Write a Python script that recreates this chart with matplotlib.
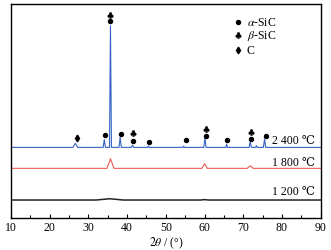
import matplotlib.pyplot as plt

plt.rcParams['font.family'] = ['Liberation Serif', 'DejaVu Serif']
plt.rcParams['mathtext.fontset'] = 'stix'

# Kurven, y in willkürlichen Einheiten
blue_x = [10, 26.0, 26.6, 27.2, 33.8, 34.1, 34.4, 35.45, 35.7, 35.95, 37.9, 38.2, 38.5,
          41.1, 41.4, 41.7, 45.3, 45.5, 45.7, 54.4, 54.6, 54.8, 59.8, 60.1, 60.4,
          65.5, 65.7, 65.9, 71.5, 71.8, 72.1, 73.2, 73.4, 73.6, 75.2, 75.5, 75.8, 90]
blue_y = [33.0, 33.0, 34.9, 33.0, 33.0, 36.6, 33.0, 33.0, 89.9, 33.0, 33.0, 37.7, 33.0,
          33.0, 34.0, 33.0, 33.0, 33.6, 33.0, 33.0, 33.6, 33.0, 33.0, 37.3, 33.0,
          33.0, 34.5, 33.0, 33.0, 35.6, 33.0, 33.0, 33.8, 33.0, 33.0, 36.9, 33.0, 33.0]

red_x = [10, 34.8, 35.7, 36.6, 59.3, 60.0, 60.7, 71.0, 71.8, 72.6, 90]
red_y = [23.2, 23.2, 27.7, 23.2, 23.2, 25.4, 23.2, 23.2, 24.4, 23.2, 23.2]

black_x = [10, 32.0, 35.5, 39.0, 59.0, 60.0, 61.0, 90]
black_y = [8.4, 8.4, 9.0, 8.4, 8.4, 8.6, 8.4, 8.4]

# Phasenmarker
alpha_x = [35.7, 34.4, 38.5, 41.5, 45.7, 55.2, 60.5, 65.8, 72.0, 75.8]
alpha_y = [92.1, 38.8, 39.3, 36.1, 35.7, 36.4, 38.5, 36.4, 36.9, 38.3]
beta_x = [35.7, 41.5, 60.5, 72.0]
beta_y = [94.9, 39.5, 41.8, 40.2]
c_x = [27.0]
c_y = [37.5]

labels = ['2 400 ℃', '1 800 ℃', '1 200 ℃']
label_y = [36.3, 26.4, 12.6]

fig = plt.figure(figsize=(3.31, 2.51), dpi=100)
ax = fig.add_axes([0.0332, 0.1275, 0.9356, 0.8526])

ax.plot(blue_x, blue_y, color='#3562c4', lw=0.8)
ax.plot(red_x, red_y, color='#ec5a55', lw=0.8)
ax.plot(black_x, black_y, color='#222222', lw=1.1)

ax.plot(alpha_x, alpha_y, 'o', color='black', ms=2.9, ls='none')
ax.plot(beta_x, beta_y, marker='$\\clubsuit$', color='black', ms=4.6, mew=0.2, ls='none')
ax.plot(c_x, c_y, marker='d', color='black', ms=3.4, ls='none')

# Legende
ax.plot([68.6], [91.7], 'o', color='black', ms=2.9)
ax.plot([68.6], [85.7], marker='$\\clubsuit$', color='black', ms=4.6, mew=0.2)
ax.plot([68.6], [78.5], marker='d', color='black', ms=3.4)
ax.text(70.9, 91.7, '$\\alpha$-SiC', fontsize=8.5, va='center')
ax.text(70.9, 85.5, '$\\beta$-SiC', fontsize=8.5, va='center')
ax.text(70.9, 78.5, 'C', fontsize=8.5, va='center')

for lab, y in zip(labels, label_y):
    ax.text(88.6, y, lab, fontsize=8.5, ha='right', va='center')

ax.set_xlim(10, 90)
ax.set_ylim(0, 100)
ax.set_xticks(range(10, 91, 10))
ax.set_xticks(range(15, 90, 10), minor=True)
ax.tick_params(axis='x', direction='in', length=3, width=0.8, labelsize=8.5, pad=2)
ax.tick_params(axis='x', which='minor', direction='in', length=2, width=0.8)
ax.set_yticks([])
for s in ax.spines.values():
    s.set_linewidth(1.0)
ax.set_xlabel('$2\\theta$ / (°)', fontsize=8.5, labelpad=1)

fig.savefig('out.png', dpi=100)
